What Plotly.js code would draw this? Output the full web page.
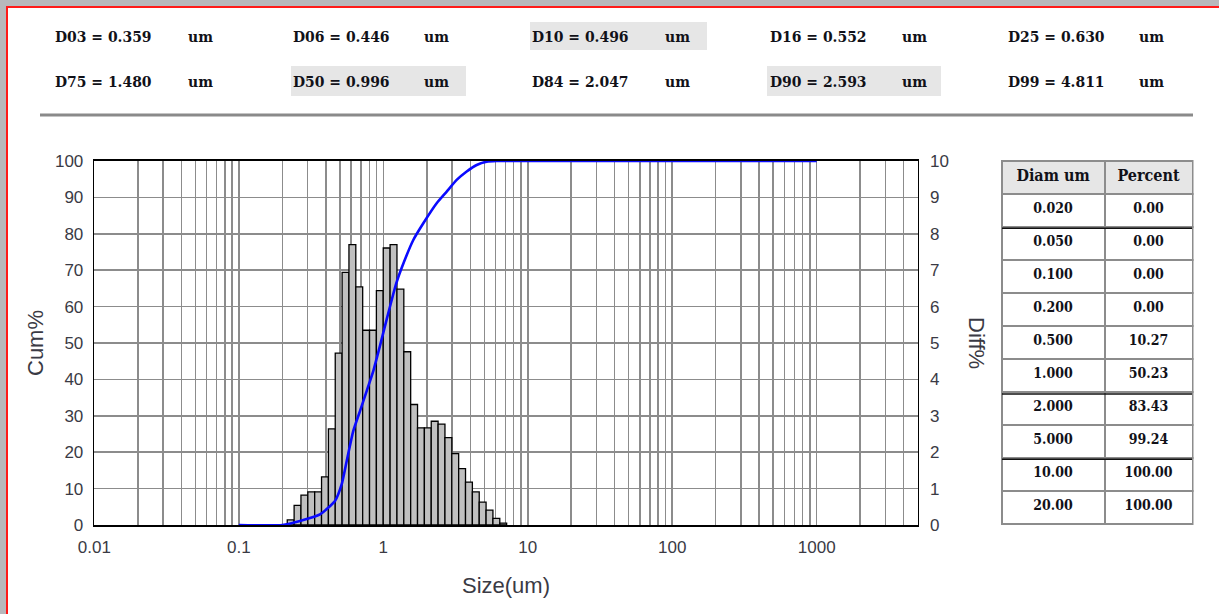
<!DOCTYPE html>
<html>
<head>
<meta charset="utf-8">
<script src="https://cdn.plot.ly/plotly-3.0.1.min.js"></script>
<style>
  html, body { margin:0; padding:0; background:#fff; }
  #wrap { position:relative; width:1219px; height:614px; overflow:hidden; }
  #chart { position:absolute; left:0; top:0; width:1219px; height:614px; }
  .deco { position:absolute; pointer-events:none; z-index:10; }
</style>
</head>
<body>
<div id="wrap">
  <div id="chart"></div>
  <div class="deco" style="left:0;top:0;width:1219px;height:6px;background:#b8b8bc;"></div>
  <div class="deco" style="left:0;top:0;width:6px;height:614px;background:#b8b8bc;"></div>
  <div class="deco" style="left:6px;top:6px;width:1213px;height:2px;background:#ff1a1a;"></div>
  <div class="deco" style="left:6px;top:6px;width:2px;height:608px;background:#ff1a1a;"></div>
</div>
<script>
// ---------- DATA ----------
// Differential distribution: bin centre sizes (um) and Diff%
var binSizes = [0.2287, 0.2551, 0.2845, 0.3174, 0.3540, 0.3949, 0.4406, 0.4913,
                0.5481, 0.6113, 0.6820, 0.7606, 0.8485, 0.9465, 1.0558, 1.1777,
                1.3138, 1.4653, 1.6346, 1.8233, 2.0339, 2.2687, 2.5307, 2.8228,
                3.1488, 3.5124, 3.9174, 4.3697, 4.8742, 5.4365, 6.0645, 6.7639];
var diffPct = [0.14, 0.54, 0.82, 0.91, 0.91, 1.32, 2.64, 4.72,
               6.94, 7.70, 6.54, 5.35, 5.35, 6.44, 7.61, 7.70,
               6.48, 4.76, 3.31, 2.67, 2.67, 2.85, 2.77, 2.40,
               1.96, 1.55, 1.18, 0.91, 0.63, 0.41, 0.18, 0.05];
var binWidthDecades = 0.04745;

// Cumulative curve
var cumSizes = [0.1, 0.2, 0.2652, 0.3648, 0.4634, 0.5157, 0.5584, 0.6196, 0.69, 0.7674,
                0.8527, 0.9487, 1.056, 1.172, 1.23, 1.34, 1.614, 1.893, 2.342, 2.748,
                3.222, 3.779, 4.43, 5.196, 6.09, 1000];
var cumPct   = [0, 0, 1.1, 2.9, 6.6, 11.2, 17.6, 25.8, 31.3, 36.8,
                42.3, 49.2, 56.5, 63.4, 66.4, 70.6, 78.3, 82.9, 88.4, 91.6,
                94.8, 97.1, 98.9, 99.8, 100, 100];

// Header D-values
var dNamesRow1 = ['D03', 'D06', 'D10', 'D16', 'D25'];
var dValsRow1  = ['0.359', '0.446', '0.496', '0.552', '0.630'];
var dNamesRow2 = ['D75', 'D50', 'D84', 'D90', 'D99'];
var dValsRow2  = ['1.480', '0.996', '2.047', '2.593', '4.811'];
var dUnit = 'um';

// Table
var tableHeader = ['Diam um', 'Percent'];
var tableDiam = ['0.020', '0.050', '0.100', '0.200', '0.500', '1.000', '2.000', '5.000', '10.00', '20.00'];
var tablePct  = ['0.00', '0.00', '0.00', '0.00', '10.27', '50.23', '83.43', '99.24', '100.00', '100.00'];

// X tick labels
var xTickVals = [0.01, 0.1, 1, 10, 100, 1000];
var xTickText = ['0.01', '0.1', '1', '10', '100', '1000'];

// ---------- LAYOUT HELPERS ----------
var W = 1219, H = 614;
function PX(x) { return x / W; }
function PY(y) { return 1 - y / H; }
var plotL = 94.3, plotR = 917.7, plotT = 161, plotB = 525;
var xMax = Math.log10(5000);

var serif = '"DejaVu Serif Condensed", "DejaVu Serif", serif';
var tickFont = {family: 'Liberation Sans, Arial, sans-serif', size: 17, color: '#3a3a44'};
var titleFont = {family: 'Liberation Sans, Arial, sans-serif', size: 22, color: '#3a3a44'};
var hdrFont = {family: serif, size: 15.5, color: '#111118', weight: 'bold'};
var tblHeadFont = {family: serif, size: 16, color: '#111118', weight: 'bold'};
var tblCellFont = {family: serif, size: 14, color: '#111118', weight: 'bold'};
var gridCol = '#8c8c8c';

var traces = [
  {
    type: 'bar',
    x: binSizes.map(function (s) { return Math.log10(s); }),
    y: diffPct,
    width: binWidthDecades,
    xaxis: 'x', yaxis: 'y',
    marker: {color: '#c0c0c0', line: {color: '#000', width: 1.3}},
    hoverinfo: 'skip'
  },
  {
    type: 'scatter', mode: 'lines',
    x: cumSizes, y: cumPct,
    xaxis: 'x2', yaxis: 'y2',
    line: {color: '#0a0aff', width: 2.6, shape: 'spline', smoothing: 0.5},
    cliponaxis: true,
    hoverinfo: 'skip'
  },
  {
    type: 'table',
    domain: {x: [PX(1001.5), PX(1192.5)], y: [PY(532), PY(161)]},
    columnwidth: [103, 88],
    header: {
      values: tableHeader,
      height: 33,
      align: 'center',
      fill: {color: '#e6e6e6'},
      line: {color: '#8c8c8c', width: 2},
      font: tblHeadFont
    },
    cells: {
      values: [tableDiam, tablePct],
      height: 33,
      align: 'center',
      fill: {color: '#ffffff'},
      line: {color: '#8c8c8c', width: 2},
      font: tblCellFont
    }
  }
];

var annotations = [];
var rows = [[dNamesRow1, dValsRow1, 36], [dNamesRow2, dValsRow2, 81]];
var colX = [53, 291, 530, 768, 1006];
var unitX = [186, 422, 663, 900, 1137];
rows.forEach(function (r) {
  for (var i = 0; i < r[0].length; i++) {
    annotations.push({xref: 'paper', yref: 'paper', x: PX(colX[i]), y: PY(r[2]),
      xanchor: 'left', yanchor: 'middle', showarrow: false,
      text: r[0][i] + ' = ' + r[1][i], font: hdrFont});
    annotations.push({xref: 'paper', yref: 'paper', x: PX(unitX[i]), y: PY(r[2]),
      xanchor: 'left', yanchor: 'middle', showarrow: false,
      text: dUnit, font: hdrFont});
  }
});
annotations.push({xref: 'paper', yref: 'paper', x: PX(35), y: PY(343), textangle: -90,
  showarrow: false, text: 'Cum%', font: titleFont, xanchor: 'center', yanchor: 'middle'});
annotations.push({xref: 'paper', yref: 'paper', x: PX(977), y: PY(343), textangle: 90,
  showarrow: false, text: 'Diff%', font: titleFont, xanchor: 'center', yanchor: 'middle'});
annotations.push({xref: 'paper', yref: 'paper', x: PX(506), y: PY(585),
  showarrow: false, text: 'Size(um)', font: titleFont, xanchor: 'center', yanchor: 'middle'});

var shapes = [
  {type: 'rect', xref: 'paper', yref: 'paper', x0: PX(530), x1: PX(707), y0: PY(50), y1: PY(22),
   fillcolor: '#e6e6e6', line: {width: 0}, layer: 'below'},
  {type: 'rect', xref: 'paper', yref: 'paper', x0: PX(291), x1: PX(466), y0: PY(96), y1: PY(66),
   fillcolor: '#e6e6e6', line: {width: 0}, layer: 'below'},
  {type: 'rect', xref: 'paper', yref: 'paper', x0: PX(767), x1: PX(941), y0: PY(96), y1: PY(66),
   fillcolor: '#e6e6e6', line: {width: 0}, layer: 'below'},
  {type: 'line', xref: 'paper', yref: 'paper', x0: PX(40), x1: PX(1193), y0: PY(115), y1: PY(115),
   line: {color: '#8a8a8a', width: 3}},
  {type: 'line', xref: 'paper', yref: 'paper', x0: PX(1002), x1: PX(1192), y0: PY(228.3), y1: PY(228.3),
   line: {color: '#111', width: 1.5}},
  {type: 'line', xref: 'paper', yref: 'paper', x0: PX(1002), x1: PX(1192), y0: PY(394), y1: PY(394),
   line: {color: '#111', width: 1.5}},
  {type: 'line', xref: 'paper', yref: 'paper', x0: PX(1002), x1: PX(1192), y0: PY(459.3), y1: PY(459.3),
   line: {color: '#111', width: 1.5}}
];

var domX = [PX(plotL), PX(plotR)];
var domY = [PY(plotB), PY(plotT)];

var layout = {
  width: W, height: H,
  margin: {l: 0, r: 0, t: 0, b: 0, pad: 0},
  paper_bgcolor: '#ffffff', plot_bgcolor: '#ffffff',
  showlegend: false,
  bargap: 0,
  xaxis: {domain: domX, range: [-2, xMax], visible: false, fixedrange: true},
  yaxis: {domain: domY, range: [0, 10], dtick: 1, side: 'right', anchor: 'x',
          showgrid: false, zeroline: false, showline: false,
          ticks: 'outside', ticklen: 8, tickcolor: 'rgba(0,0,0,0)',
          tickfont: tickFont, automargin: false, fixedrange: true},
  xaxis2: {overlaying: 'x', type: 'log', range: [-2, xMax], anchor: 'y2', side: 'bottom',
           tickmode: 'array', tickvals: xTickVals, ticktext: xTickText,
           showgrid: true, gridcolor: gridCol, gridwidth: 1.5,
           minor: {dtick: 'D1', showgrid: true, gridcolor: gridCol, gridwidth: 1.5, ticks: ''},
           showline: true, mirror: true, linecolor: '#000', linewidth: 1.6,
           ticks: 'outside', ticklen: 6, tickcolor: 'rgba(0,0,0,0)',
           zeroline: false, tickfont: tickFont, automargin: false, fixedrange: true},
  yaxis2: {overlaying: 'y', anchor: 'x2', side: 'left', range: [0, 100], dtick: 10,
           showgrid: true, gridcolor: gridCol, gridwidth: 1.5,
           showline: true, mirror: true, linecolor: '#000', linewidth: 1.6,
           ticks: 'outside', ticklen: 6, tickcolor: 'rgba(0,0,0,0)',
           zeroline: false, tickfont: tickFont, automargin: false, fixedrange: true},
  annotations: annotations,
  shapes: shapes
};

Plotly.newPlot('chart', traces, layout, {displayModeBar: false, staticPlot: true});
</script>
</body>
</html>
